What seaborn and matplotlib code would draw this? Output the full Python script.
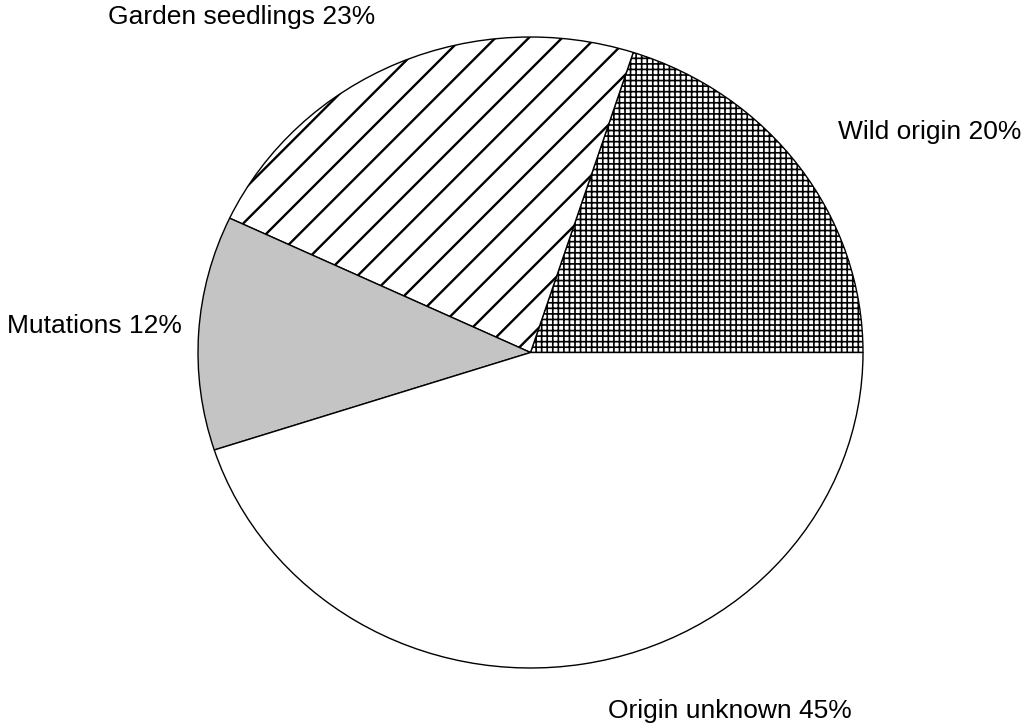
import matplotlib
matplotlib.use('Agg')
import matplotlib.pyplot as plt
import seaborn as sns

# Data: origin of cultivars (shares in %)
labels = ['Wild origin', 'Garden seedlings', 'Mutations', 'Origin unknown']
shares = [20, 23, 12, 45]

# Look of each slice (grayscale, hatched like the printed figure)
face_colors = ['white', 'white', '#c4c4c4', 'white']
hatches = ['+++', '/', '', '']
hatch_widths = [1.2, 1.7, 1.0, 1.0]

sns.set_theme(style='white')
plt.rcParams['font.family'] = ['Liberation Sans', 'DejaVu Sans']
plt.rcParams['hatch.linewidth'] = 1.2

fig = plt.figure(figsize=(10.29, 7.26), dpi=100)
# axes placed so the pie becomes the slightly wide ellipse of the reference
ax = fig.add_axes([198 / 1029, 58 / 726, 665 / 1029, 631 / 726])

wedges, _ = ax.pie(shares, startangle=0, counterclock=True, radius=1,
                   colors=face_colors,
                   wedgeprops=dict(edgecolor='black', linewidth=1.0))
for w, h, hw in zip(wedges, hatches, hatch_widths):
    w.set_hatch(h)
    if hasattr(w, 'set_hatch_linewidth'):
        w.set_hatch_linewidth(hw)

ax.set_aspect('auto')
ax.set_xlim(-1, 1)
ax.set_ylim(-1, 1)
ax.axis('off')

# Label positions in data units
label_pos = [(1.20, 0.70), (-0.87, 1.064), (-1.31, 0.085), (0.60, -1.135)]
for lab, val, (x, y) in zip(labels, shares, label_pos):
    ax.text(x, y, f'{lab} {val}%', ha='center', va='center', fontsize=19,
            color='black', clip_on=False)

fig.savefig('out.png', dpi=100, facecolor='white')
